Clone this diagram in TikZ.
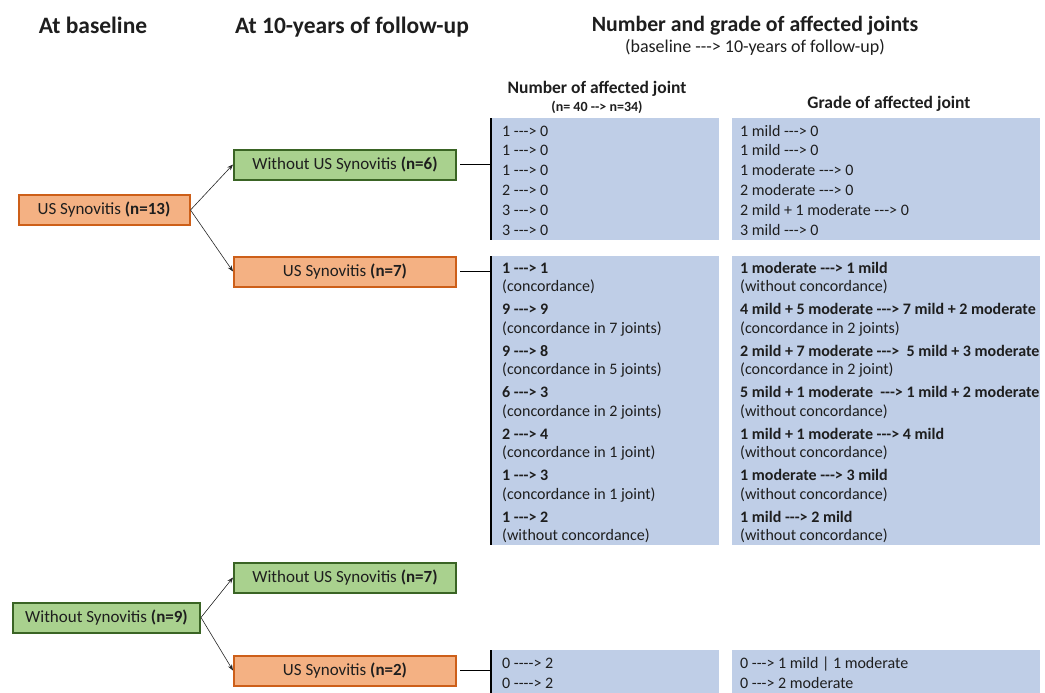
\documentclass[tikz,border=0pt]{standalone}
\usepackage{fontspec}
\setmainfont{Carlito}[Ligatures=TeXOff]
\usetikzlibrary{arrows.meta}
\definecolor{txt}{RGB}{30,30,30}
\definecolor{orfill}{RGB}{244,177,131}
\definecolor{ordraw}{RGB}{205,95,25}
\definecolor{grfill}{RGB}{169,209,142}
\definecolor{grdraw}{RGB}{58,100,36}
\definecolor{panelc}{RGB}{191,206,231}
\begin{document}
\begin{tikzpicture}[x=1pt,y=-1pt,
  every node/.style={text=txt, inner sep=0pt},
  hdr/.style={font=\fontsize{23.5}{28}\selectfont\bfseries, anchor=base},
  ttl/.style={font=\fontsize{21.8}{26}\selectfont\bfseries, anchor=base},
  sub/.style={font=\fontsize{18}{21}\selectfont, anchor=base},
  colhdr/.style={font=\fontsize{17.5}{21}\selectfont\bfseries, anchor=base},
  nsmall/.style={font=\fontsize{14}{17}\selectfont\bfseries, anchor=base},
  obox/.style={draw=ordraw, fill=orfill, line width=2pt, minimum height=30pt,
    font=\fontsize{17}{20}\selectfont},
  gbox/.style={draw=grdraw, fill=grfill, line width=2pt, minimum height=30pt,
    font=\fontsize{17}{20}\selectfont},
  panelbox/.style={fill=panelc, anchor=north west},
  ptxt/.style={font=\fontsize{16}{19}\selectfont, anchor=base west},
  pbold/.style={font=\fontsize{16}{19}\selectfont\bfseries, anchor=base west},
  arr/.style={draw=black!85, line width=0.6pt, -{Stealth[length=6pt,width=4.5pt]}},
  conn/.style={draw=black, line width=1.4pt},
  bar/.style={draw=black, line width=2pt},
]
\useasboundingbox (0,0) rectangle (1045,693);

% headers
\node[hdr] (h1) at (93,34) {At baseline};
\node[hdr] (h2) at (352,34) {At 10-years of follow-up};
\node[ttl] (h3) at (755,32) {Number and grade of affected joints};
\node[sub] (h3s) at (755,53) {(baseline ---> 10-years of follow-up)};
\node[colhdr] (hn) at (597,93) {Number of affected joint};
\node[nsmall] (hnn) at (597,112) {(n= 40 --> n=34)};
\node[colhdr] (hg) at (889,108) {Grade of affected joint};

% left boxes
\node[obox, minimum width=171pt] (us13) at (104,210) {US Synovitis \textbf{(n=13)}};
\node[gbox, minimum width=222pt] (wo6) at (345,164.5) {Without US Synovitis \textbf{(n=6)}};
\node[obox, minimum width=222pt] (us7) at (345,271.5) {US Synovitis \textbf{(n=7)}};
\node[gbox, minimum width=187pt] (wo9) at (106.5,617.5) {Without Synovitis \textbf{(n=9)}};
\node[gbox, minimum width=222pt] (wo7) at (345,577.5) {Without US Synovitis \textbf{(n=7)}};
\node[obox, minimum width=222pt] (us2) at (345,670.5) {US Synovitis \textbf{(n=2)}};

\draw[arr] (us13.east) -- (wo6.west);
\draw[arr] (us13.east) -- (us7.west);
\draw[arr] (wo9.east) -- (wo7.west);
\draw[arr] (wo9.east) -- (us2.west);

% panels
\node[panelbox, minimum width=228pt, minimum height=122pt] (p1n) at (491,118) {};
\node[panelbox, minimum width=308pt, minimum height=122pt] (p1g) at (732,118) {};
\node[panelbox, minimum width=228pt, minimum height=289pt] (p2n) at (491,256) {};
\node[panelbox, minimum width=308pt, minimum height=289pt] (p2g) at (732,256) {};
\node[panelbox, minimum width=228pt, minimum height=50pt] (p3n) at (491,650) {};
\node[panelbox, minimum width=308pt, minimum height=50pt] (p3g) at (732,650) {};

\draw[bar] (p1n.north west) -- (p1n.south west);
\draw[bar] (p2n.north west) -- (p2n.south west);
\draw[bar] (p3n.north west) -- (p3n.south west);
\draw[conn] ([xshift=3pt]wo6.east) -- (wo6.east -| p1n.west);
\draw[conn] ([xshift=3pt]us7.east) -- (us7.east -| p2n.west);
\draw[conn] ([xshift=3pt]us2.east) -- (us2.east -| p3n.west);

% panel 1 texts
\foreach \t [count=\i] in {1 ---> 0, 1 ---> 0, 1 ---> 0, 2 ---> 0, 3 ---> 0, 3 ---> 0}
  \node[ptxt] (na\i) at (502,{116.2+19.8*\i}) {\t};
\foreach \t [count=\i] in {1 mild ---> 0, 1 mild ---> 0, 1 moderate ---> 0, 2 moderate ---> 0, 2 mild + 1 moderate ---> 0, 3 mild ---> 0}
  \node[ptxt] (ga\i) at (740,{116.2+19.8*\i}) {\t};

% panel 2 texts
\foreach \a/\b [count=\i from 0] in {1 ---> 1/(concordance), 9 ---> 9/(concordance in 7 joints), 9 ---> 8/(concordance in 5 joints), 6 ---> 3/(concordance in 2 joints), 2 ---> 4/(concordance in 1 joint), 1 ---> 3/(concordance in 1 joint), 1 ---> 2/(without concordance)}{
  \node[pbold] (nb\i) at (502,{273+41.5*\i}) {\a};
  \node[ptxt] (nc\i) at (502,{291.5+41.5*\i}) {\b};
}
\foreach \a/\b [count=\i from 0] in {1 moderate ---> 1 mild/(without concordance), 4 mild + 5 moderate ---> 7 mild + 2 moderate/(concordance in 2 joints), 2 mild + 7 moderate --->\ \ 5 mild + 3 moderate/(concordance in 2 joint), 5 mild + 1 moderate\ \ ---> 1 mild + 2 moderate/(without concordance), 1 mild + 1 moderate ---> 4 mild/(without concordance), 1 moderate ---> 3 mild/(without concordance), 1 mild ---> 2 mild/(without concordance)}{
  \node[pbold] (gb\i) at (740,{273+41.5*\i}) {\a};
  \node[ptxt] (gc\i) at (740,{291.5+41.5*\i}) {\b};
}

% panel 3 texts
\node[ptxt] (nd1) at (502,668) {0 ----> 2};
\node[ptxt] (nd2) at (502,688) {0 ----> 2};
\node[ptxt] (gd1) at (740,668) {0 ---> 1 mild | 1 moderate};
\node[ptxt] (gd2) at (740,688) {0 ---> 2 moderate};
\end{tikzpicture}
\end{document}
